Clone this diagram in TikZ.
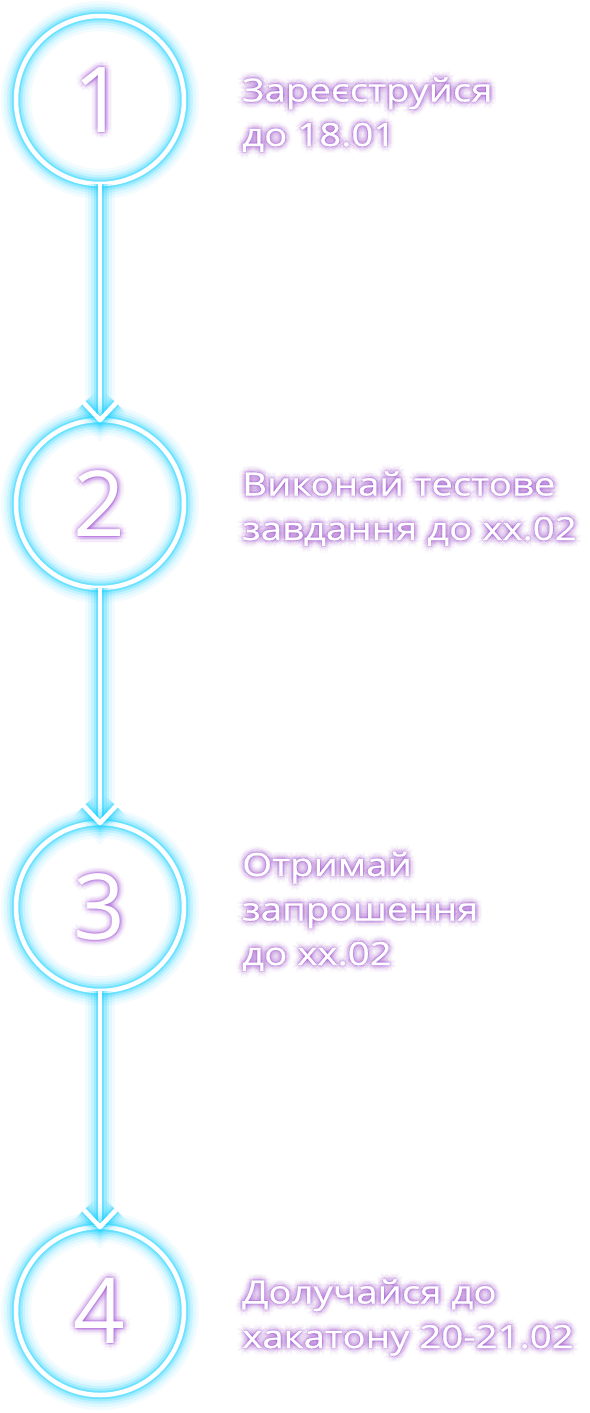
\documentclass[tikz,border=0pt]{standalone}
\usepackage{fontspec}
\setmainfont{Open Sans}
\newfontfamily\stepfont{Open Sans}[FakeStretch=1.2,FakeBold=0.6]
\usetikzlibrary{arrows.meta}
\definecolor{neoncyan}{HTML}{12D2FF}
\definecolor{neonviolet}{HTML}{9A38DA}
\begin{document}
\begin{tikzpicture}[x=1pt,y=-1pt,
    neon/.style={draw=white, line width=4.5pt, line cap=round, line join=round,
        preaction={draw=neoncyan, draw opacity=0.05, line width=30pt},
        preaction={draw=neoncyan, draw opacity=0.08, line width=24pt},
        preaction={draw=neoncyan, draw opacity=0.12, line width=18pt},
        preaction={draw=neoncyan, draw opacity=0.2, line width=13pt},
        preaction={draw=neoncyan, draw opacity=0.35, line width=8.5pt}},
    ring/.style={circle, minimum size=168pt, inner sep=0pt, outer sep=0pt, neon},
    numtext/.style={font=\fontsize{91}{91}\selectfont, inner sep=0pt, text=white},
    steptext/.style={font=\stepfont\fontsize{32}{44.5}\selectfont, align=left, anchor=base west, inner sep=0pt, text=white},
    glowcopy/.style={text=neonviolet, text opacity=#1}
]
\useasboundingbox[fill=white] (0,0) rectangle (589,1413);

% circles and step texts (anchored at the last line's baseline)
\foreach \n/\cy/\ty/\lbl in {1/100/146/{Зареєструйся\\до 18.01},
                              2/504/540/{Виконай тестове\\завдання до хх.02},
                              3/907/965/{Отримай\\запрошення\\до хх.02},
                              4/1311/1348/{Долучайся до\\хакатону 20-21.02}}{
    \node[ring] (c\n) at (100,\cy) {};
    \foreach \a in {0,45,...,315}
        \foreach \r/\op in {1/0.07,2.5/0.055,4/0.04,5.5/0.03,7/0.02}{
            \node[numtext, glowcopy=\op] (cg\n-\a-\r) at ([shift={(\a+22:\r)}] c\n.center) {\n};
            \node[steptext, glowcopy=\op] (tg\n-\a-\r) at ([shift={(\a+22:\r)}] 242,\ty) {\lbl};
        }
    \node[numtext] (d\n) at (c\n.center) {\n};
    \node[steptext] (t\n) at (242,\ty) {\lbl};
}

% arrows with open chevrons
\foreach \i/\j in {1/2,2/3,3/4}{
    \draw[neon] (c\i.south) -- (c\j.north);
    \draw[neon] ([shift={(-16,-17)}] c\j.north) -- (c\j.north) -- ([shift={(16,-17)}] c\j.north);
}

\end{tikzpicture}
\end{document}
